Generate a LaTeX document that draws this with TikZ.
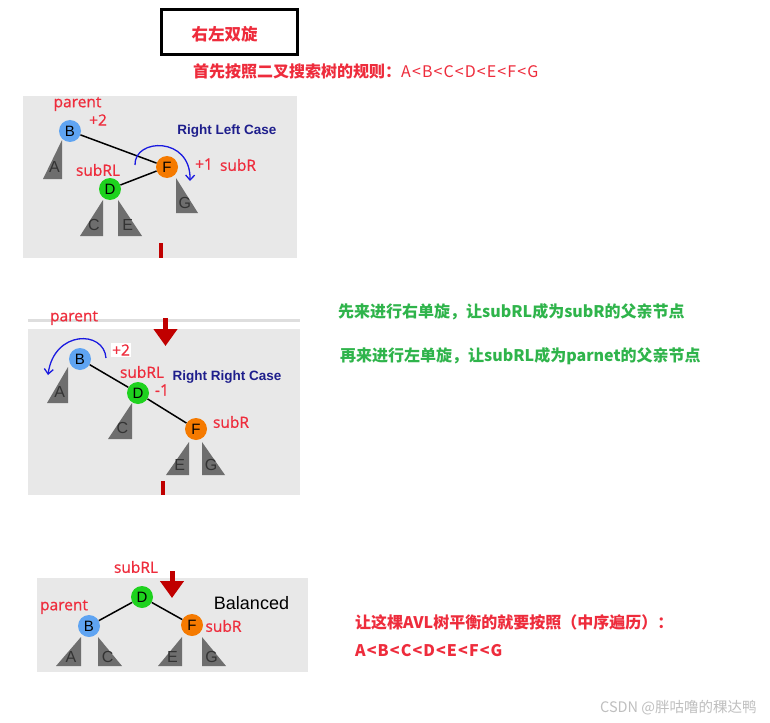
\documentclass[tikz,border=0pt]{standalone}
\usepackage{fontspec}
\setmainfont{Liberation Sans}
\newfontfamily\lblfont[FakeBold=0.8]{Open Sans}
\newfontfamily\cjk{Noto Sans CJK SC}
\usetikzlibrary{arrows.meta,positioning}
\definecolor{rlRed}{HTML}{EE2C3C}
\definecolor{rlDark}{HTML}{C00000}
\definecolor{rlGreen}{HTML}{2FB44B}
\definecolor{rlNavy}{HTML}{1E1E8C}
\definecolor{rlTurn}{HTML}{1A1AE0}
\definecolor{rlPanel}{HTML}{E8E8E8}
\definecolor{rlRule}{HTML}{DEDEDE}
\definecolor{rlTree}{HTML}{6E6E6E}
\definecolor{rlBlueN}{HTML}{5FA4F2}
\definecolor{rlGreenN}{HTML}{1ED21E}
\definecolor{rlOrangeN}{HTML}{F57A00}

% subtree triangles: apex x, apex y, width, height, name, letter
\newcommand{\ltree}[6]{%
  \fill[rlTree] (#1,#2) -- (#1,#2+#4) -- (#1-#3,#2+#4) -- cycle;
  \node[leaf] (#5) at (#1-0.4*#3,#2+0.7*#4) {#6};}
\newcommand{\rtree}[6]{%
  \fill[rlTree] (#1,#2) -- (#1,#2+#4) -- (#1+#3,#2+#4) -- cycle;
  \node[leaf] (#5) at (#1+0.4*#3,#2+0.7*#4) {#6};}
% in-order sequence, spaced a little
\newcommand{\inorder}{A\kern1.1pt<\kern1.1pt B\kern1.1pt<\kern1.1pt C\kern1.1pt<\kern1.1pt D\kern1.1pt<\kern1.1pt E\kern1.1pt<\kern1.1pt F\kern1.1pt<\kern1.1pt G}

\begin{document}
\begin{tikzpicture}[x=1pt,y=-1pt,
  vtx/.style={circle,minimum size=22pt,inner sep=0pt,font=\fontsize{15}{15}\selectfont},
  leaf/.style={inner sep=0pt,text=black!80,font=\fontsize{16}{16}\selectfont},
  lbl/.style={inner sep=0pt,text=rlRed,font=\lblfont\fontsize{15.5}{16}\selectfont},
  case/.style={inner sep=0pt,text=rlNavy,font=\bfseries\fontsize{13.5}{14}\selectfont},
  zh/.style={inner sep=0pt,anchor=west,font=\cjk\bfseries\fontsize{16}{16}\selectfont},
  link/.style={line width=1.5pt},
  turn/.style={rlTurn,line width=1.3pt,-{Straight Barb[length=5pt,width=9pt]}},
  down/.style={rlDark,line width=5pt,-{Triangle[length=17pt,width=23pt]}}]
  \useasboundingbox[fill=white] (0,0) rectangle (770,722);

  % heading
  \draw[line width=3pt] (161.5,9.5) rectangle (297.5,54.5);
  \node[zh,anchor=center,text=rlRed,font=\cjk\bfseries\fontsize{16.5}{17}\selectfont] (title) at (224.5,34) {右左双旋};
  \node[zh,text=rlRed] (rule) at (193,71) {首先按照二叉搜索树的规则：{\mdseries\inorder}};

  % panel 1: right left case
  \fill[rlPanel] (23,96) rectangle (297,258);
  \fill[rlDark] (159,243) rectangle (163,258);
  \ltree{62}{140}{19}{39}{a1}{A}
  \ltree{103}{200}{23}{36}{c1}{C}
  \rtree{118}{200}{24}{36}{e1}{E}
  \rtree{176}{178}{22}{35}{g1}{G}
  \node[vtx,fill=rlBlueN] (b1) at (70,131) {B};
  \node[vtx,fill=rlOrangeN] (f1) at (167,167) {F};
  \node[vtx,fill=rlGreenN] (d1) at (110,189) {D};
  \draw[link] (b1) -- (f1);
  \draw[link] (d1) -- (f1);
  \draw[turn] (135,165) .. controls (134,138) and (191,136) .. (190,181);
  \node[lbl] (par1) at (77.5,104) {parent};
  \node[lbl] (bal1) at (98,120) {+2};
  \node[case] (case1) at (227,131) {Right Left Case};
  \node[lbl] (rl1) at (98,170) {subRL};
  \node[lbl] (balf1) at (204,164) {+1};
  \node[lbl] (sr1) at (238,165) {subR};

  % panel 2: right right case
  \draw[rlRule,line width=3pt] (28,320) -- (300,320);
  \fill[rlPanel] (28,329) rectangle (300,495);
  \fill[rlDark] (161,481) rectangle (165,495);
  \coordinate (s2) at (165.5,318);
  \coordinate (t2) at (165.5,346);
  \draw[down] (s2) -- (t2);
  \ltree{68}{367}{21}{36}{a2}{A}
  \ltree{132}{403}{24}{36}{c2}{C}
  \ltree{189}{442}{23}{33}{e2}{E}
  \rtree{202}{442}{23}{33}{g2}{G}
  \node[vtx,fill=rlBlueN] (b2) at (80,359) {B};
  \node[vtx,fill=rlGreenN] (d2) at (138,393) {D};
  \node[vtx,fill=rlOrangeN] (f2) at (196,429) {F};
  \draw[link] (b2) -- (d2);
  \draw[link] (d2) -- (f2);
  \draw[turn] (106,358) .. controls (104,330) and (54,330) .. (48,375);
  \node[lbl] (par2) at (74,318) {parent};
  \node[lbl,fill=white,inner sep=1pt] (bal2) at (121,350) {+2};
  \node[lbl] (rl2) at (142,372) {subRL};
  \node[lbl] (bald2) at (162,390) {-1};
  \node[case] (case2) at (227,377) {Right Right Case};
  \node[lbl] (sr2) at (231,422) {subR};

  % panel 3: balanced
  \fill[rlPanel] (37,578) rectangle (308,672);
  \ltree{81}{637}{25}{29}{a3}{A}
  \rtree{98}{637}{24}{29}{c3}{C}
  \ltree{182}{637}{24}{29}{e3}{E}
  \rtree{202}{637}{24}{29}{g3}{G}
  \node[vtx,fill=rlGreenN] (d3) at (142,597) {D};
  \node[vtx,fill=rlBlueN] (b3) at (89,626) {B};
  \node[vtx,fill=rlOrangeN] (f3) at (192,625) {F};
  \draw[link] (d3) -- (b3);
  \draw[link] (d3) -- (f3);
  \coordinate (s3) at (172,571);
  \coordinate (t3) at (172,598);
  \draw[down] (s3) -- (t3);
  \node[lbl] (rl3) at (136,567) {subRL};
  \node[lbl] (par3) at (64,607) {parent};
  \node[lbl] (sr3) at (223.5,626) {subR};
  \node[inner sep=0pt,font=\fontsize{18}{18}\selectfont] (done) at (251.5,603) {Balanced};

  % notes
  \node[zh,text=rlGreen] (step1) at (338,312) {先来进行右单旋，让subRL成为subR的父亲节点};
  \node[zh,text=rlGreen] (step2) at (340,356) {再来进行左单旋，让subRL成为parnet的父亲节点};
  \node[zh,text=rlRed] (order) at (355,622) {让这棵AVL树平衡的就要按照（中序遍历）：};
  \node[zh,text=rlRed] (seq) at (355,651) {\inorder};
  \node[zh,text=black!25,font=\cjk\fontsize{14.5}{14.5}\selectfont] (mark) at (600,708) {CSDN @胖咕噜的稞达鸭};
\end{tikzpicture}
\end{document}
